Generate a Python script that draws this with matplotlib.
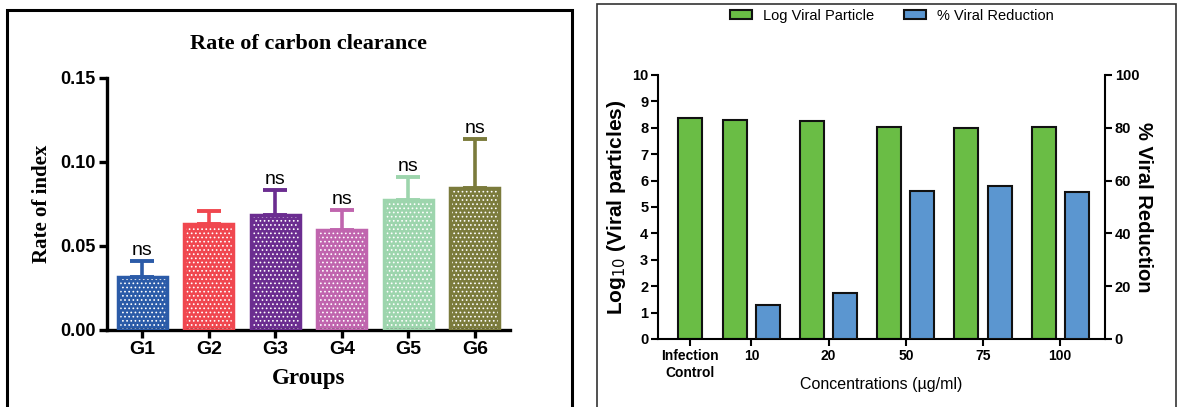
import numpy as np
import matplotlib
matplotlib.use("Agg")
import matplotlib.pyplot as plt
from matplotlib.patches import Rectangle, Patch

plt.rcParams['font.family'] = ['Liberation Sans', 'DejaVu Sans']
plt.rcParams['hatch.linewidth'] = 0.7

# Left chart data
groups = ["G1", "G2", "G3", "G4", "G5", "G6"]
rate = [0.0315, 0.063, 0.0685, 0.0595, 0.0775, 0.0845]
rate_err = [0.0095, 0.008, 0.015, 0.012, 0.0135, 0.029]
ns_shown = [True, False, True, True, True, True]
group_colors = ["#2b5ba8", "#f0474f", "#6b2d90", "#c065ae", "#9dd5ad", "#7b7b3c"]

# Right chart data
conc = ["Infection\nControl", "10", "20", "50", "75", "100"]
log_viral = [8.37, 8.31, 8.27, 8.02, 7.99, 8.02]
pct_reduction = [13.0, 17.4, 56.0, 58.0, 55.5]  # for 10..100

fig = plt.figure(figsize=(11.8, 4.07), dpi=100)

# panel frames
fig.patches.append(Rectangle((7 / 1180, -0.05), 565 / 1180, 1.05 - 10 / 407,
                             transform=fig.transFigure, fill=False,
                             edgecolor="black", linewidth=2.2))
fig.patches.append(Rectangle((597 / 1180, -0.05), 579 / 1180, 1.05 - 4 / 407,
                             transform=fig.transFigure, fill=False,
                             edgecolor="#333333", linewidth=1.2))

# ---------- left panel ----------
ax1 = fig.add_axes([107 / 1180, 1 - 330 / 407, 403 / 1180, 252 / 407])
x1 = np.arange(len(groups))
ax1.bar(x1, rate, width=0.73, color=group_colors, edgecolor="white",
        hatch="....", linewidth=0, zorder=2)
ax1.bar(x1, rate, width=0.73, fill=False, edgecolor=group_colors,
        linewidth=2.5, zorder=3)
for xi, r, e, c, show in zip(x1, rate, rate_err, group_colors, ns_shown):
    ax1.errorbar(xi, r, yerr=[[0], [e]], color=c, elinewidth=2.6,
                 capsize=8.5, capthick=2.8, zorder=1)
    if show:
        ax1.annotate("ns", (xi, r + e), xytext=(0, 1.5), textcoords="offset points",
                     ha="center", va="bottom", fontsize=14)

ax1.set_xlim(-0.53, 5.53)
ax1.set_ylim(0, 0.15)
ax1.set_yticks([0.0, 0.05, 0.10, 0.15])
ax1.set_yticklabels(["0.00", "0.05", "0.10", "0.15"], fontweight="bold", fontsize=13)
ax1.set_xticks(x1)
ax1.set_xticklabels(groups, fontweight="bold", fontsize=14)
for s in ["top", "right"]:
    ax1.spines[s].set_visible(False)
for s in ["left", "bottom"]:
    ax1.spines[s].set_linewidth(2.4)
ax1.tick_params(width=2.4, length=6, pad=2)
ax1.set_title("Rate of carbon clearance", family="Liberation Serif",
              fontweight="bold", fontsize=16, pad=21)
ax1.set_ylabel("Rate of index", family="Liberation Serif", fontweight="bold",
               fontsize=15, labelpad=6)
ax1.set_xlabel("Groups", family="Liberation Serif", fontweight="bold",
               fontsize=16.5, labelpad=7)

# ---------- right panel ----------
ax2 = fig.add_axes([658 / 1180, 1 - 339 / 407, 447 / 1180, 264 / 407])
ax3 = ax2.twinx()
green = "#6abd45"
blue = "#5b96d0"
ic_gap = 0.79
bw = 0.31
off = 0.215
centers = np.concatenate([[1 - ic_gap], np.arange(1, len(conc))])
green_x = np.concatenate([[centers[0]], centers[1:] - off])
blue_x = centers[1:] + off

ax2.bar(green_x, log_viral, width=bw, color=green, edgecolor="#111111",
        linewidth=1.5, zorder=2)
ax3.bar(blue_x, pct_reduction, width=bw, color=blue, edgecolor="#111111",
        linewidth=1.5, zorder=2)

ax2.set_xlim(1 - 1.21, 5.58)
ax2.set_ylim(0, 10)
ax3.set_ylim(0, 100)
ax2.set_yticks(range(0, 11))
ax3.set_yticks(range(0, 101, 20))
ax2.set_xticks(centers)
ax2.set_xticklabels(conc, fontweight="bold", fontsize=10, linespacing=1.3)
for lbl in ax2.get_yticklabels():
    lbl.set_fontweight("bold")
    lbl.set_fontsize(10.5)
for lbl in ax3.get_yticklabels():
    lbl.set_fontweight("bold")
    lbl.set_fontsize(10.5)
for a in (ax2, ax3):
    a.spines["top"].set_visible(False)
    for s in ["left", "right", "bottom"]:
        a.spines[s].set_linewidth(1.5)
    a.tick_params(width=1.5, length=5, pad=2)
ax2.spines["right"].set_visible(False)
ax3.spines["left"].set_visible(False)
ax3.spines["bottom"].set_visible(False)

ax2.set_ylabel("Log$_{10}$ (Viral particles)", fontweight="bold", fontsize=15,
               labelpad=3)
ax3.set_ylabel("% Viral Reduction", fontweight="bold", fontsize=14.5,
               rotation=270, labelpad=10)
ax2.set_xlabel("Concentrations (\u00b5g/ml)", fontsize=11.5, labelpad=-2)

handles = [Patch(facecolor=green, edgecolor="#111111", linewidth=1.5, label="Log Viral Particle"),
           Patch(facecolor=blue, edgecolor="#111111", linewidth=1.5, label="% Viral Reduction")]
fig.legend(handles=handles, loc="center", bbox_to_anchor=(892 / 1180, 1 - 16 / 407),
           ncol=2, frameon=False, fontsize=10.5, handlelength=1.5, handleheight=0.6,
           columnspacing=2.0, handletextpad=0.8)

fig.savefig("out.png", dpi=100)
